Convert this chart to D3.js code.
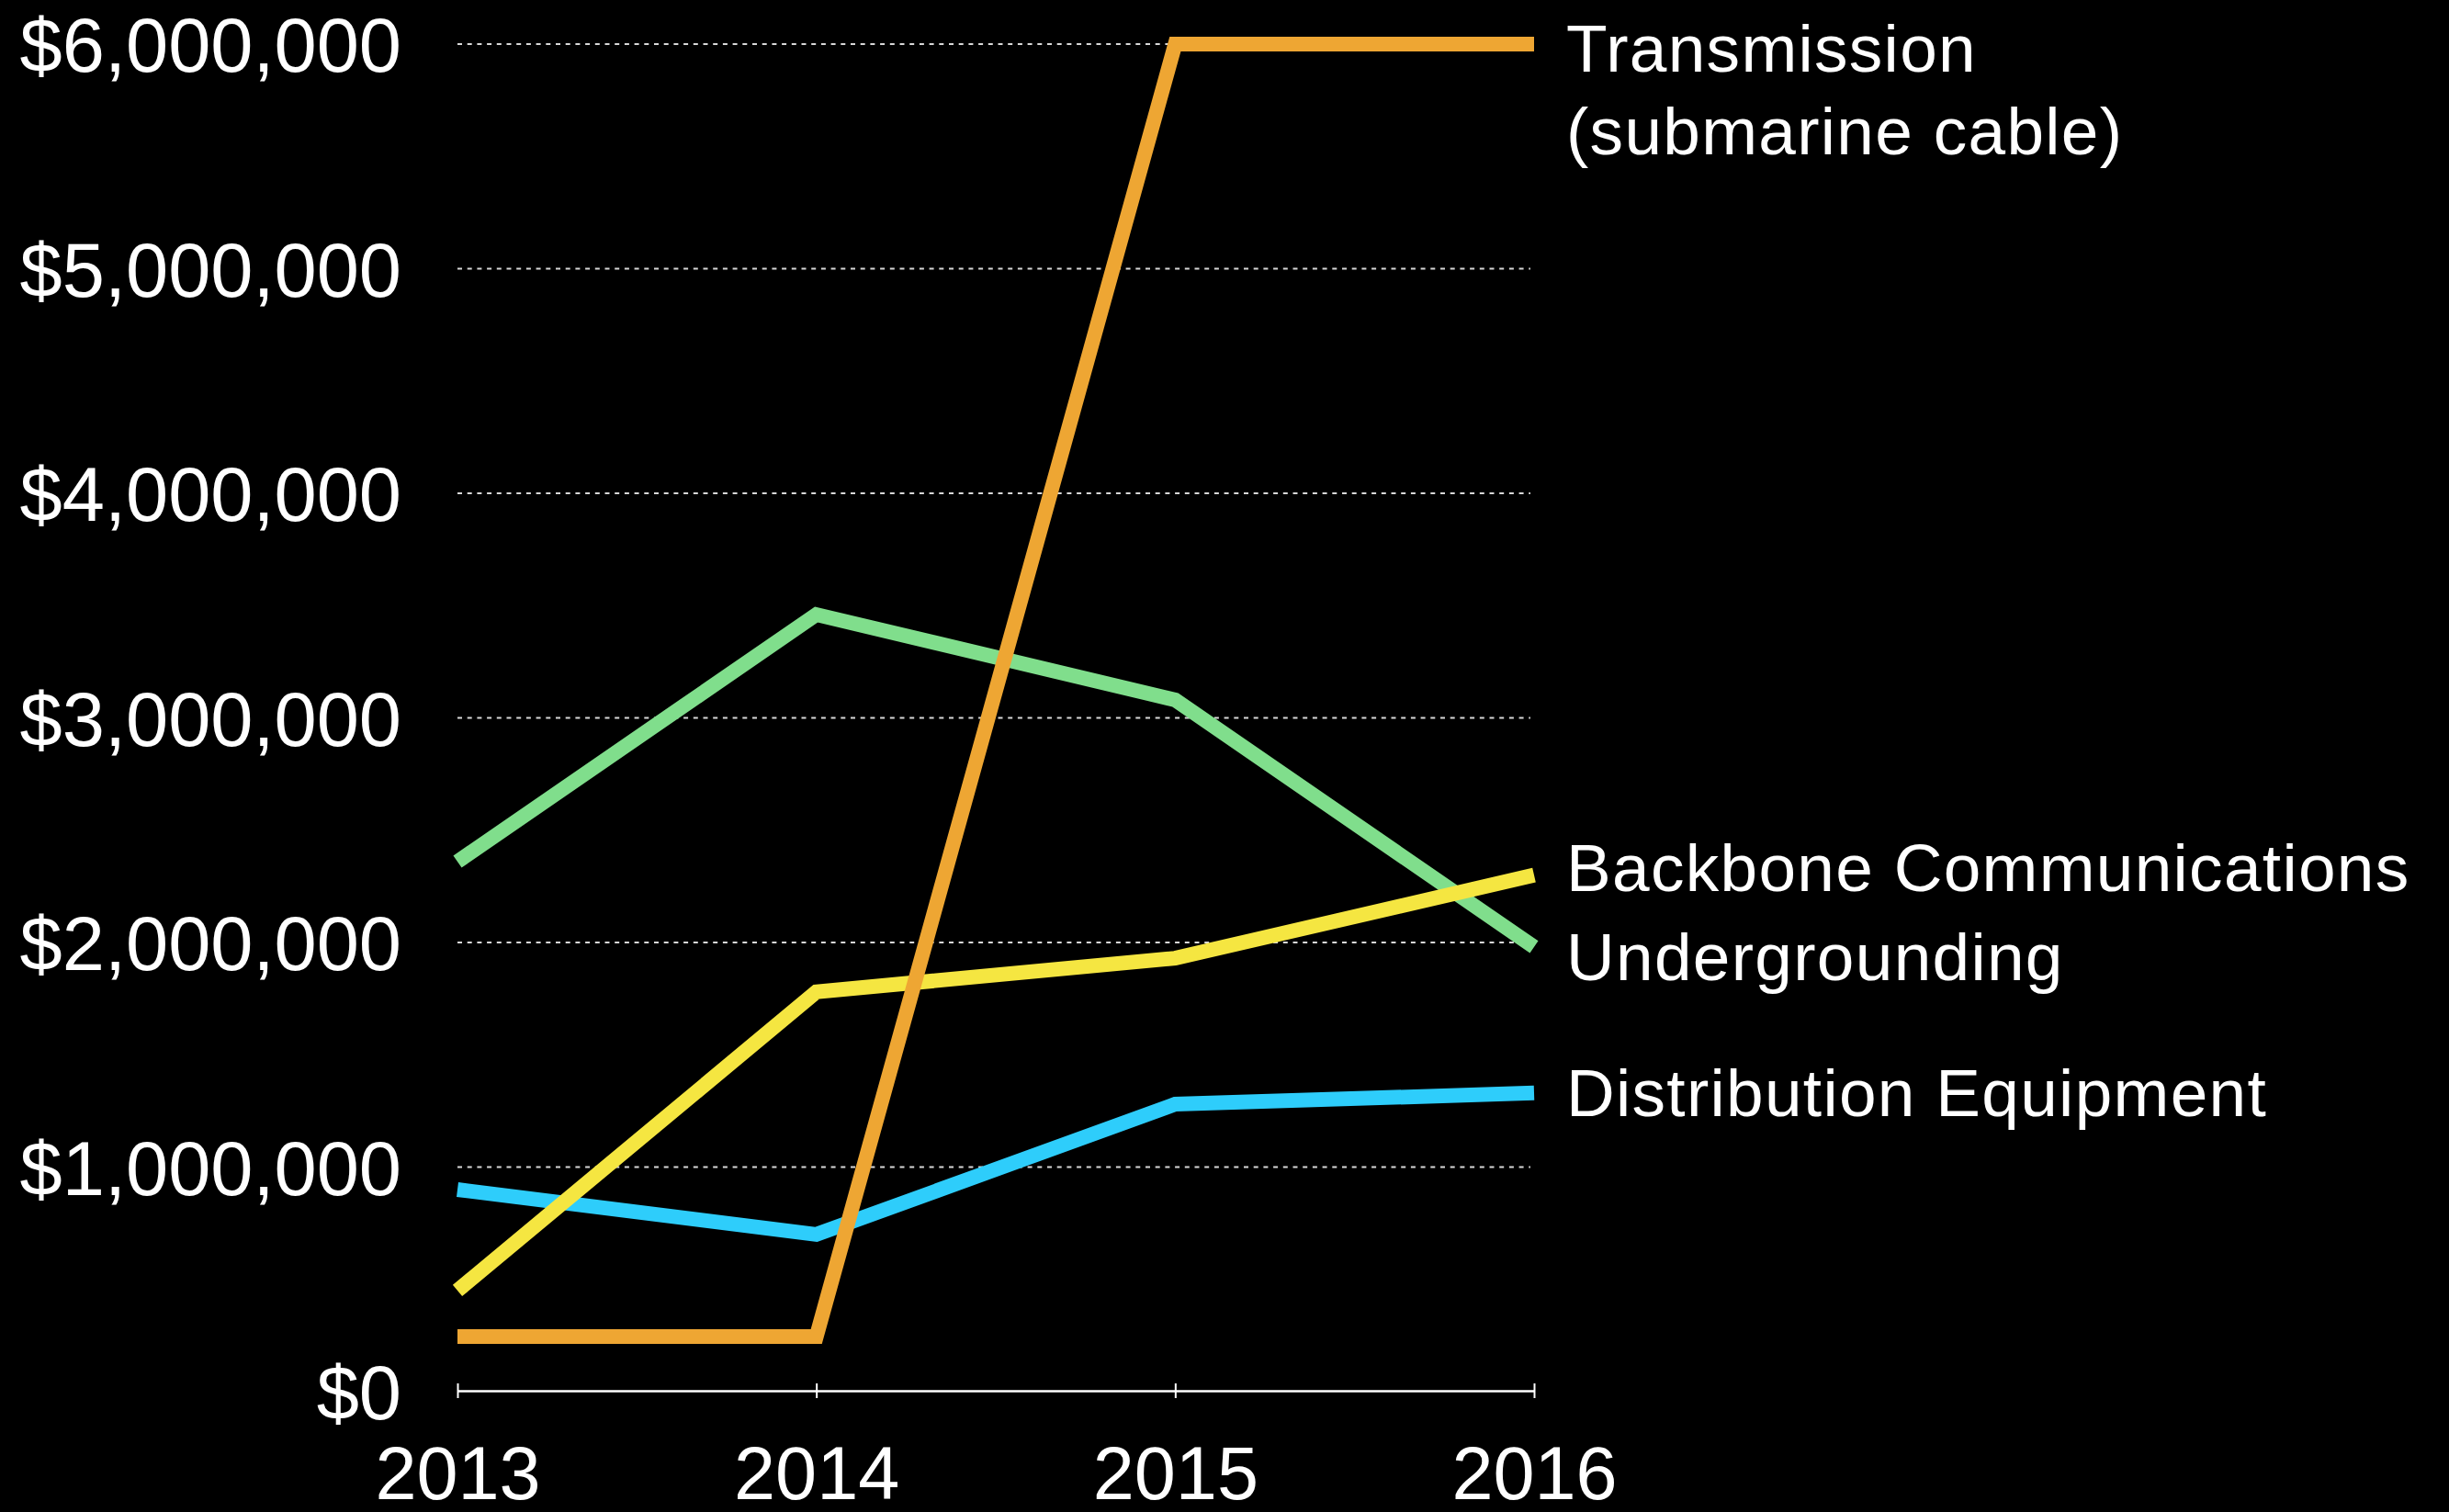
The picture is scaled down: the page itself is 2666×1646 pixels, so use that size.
<!DOCTYPE html>
<html>
<head>
<meta charset="utf-8">
<script src="https://cdn.jsdelivr.net/npm/d3@7"></script>
<style>
  body { margin: 0; background: #000; }
  text { font-family: "Helvetica Neue", "Liberation Sans", Arial, sans-serif; fill: #fff; }
</style>
</head>
<body>
<div id="chart"></div>
<script>
var years = ["2013", "2014", "2015", "2016"];
var yTicks = [0, 1000000, 2000000, 3000000, 4000000, 5000000, 6000000];

var undergrounding = [2360000, 3460000, 3080000, 1980000];
var distribution = [900000, 700000, 1280000, 1330000];
var backbone = [450000, 1780000, 1930000, 2300000];
var transmission = [245000, 245000, 6000000, 6000000];

var seriesNames = ["Undergrounding", "Distribution Equipment", "Backbone Communications", "Transmission"];
var seriesColors = ["#80de8c", "#2ecdfb", "#f5e641", "#eea633"];

var svgWidth = 2666;
var svgHeight = 1646;

var margin = { top: 48, left: 498 };
var width = 1172;
var height = 1467;

var svg = d3.select("#chart")
  .append("svg")
  .attr("width", svgWidth)
  .attr("height", svgHeight)
  .style("background", "#000");

var chartGroup = svg.append("g")
  .attr("transform", `translate(${margin.left},${margin.top})`);

var xScale = d3.scalePoint()
  .domain(years)
  .range([0, width]);

var yScale = d3.scaleLinear()
  .domain([0, 6000000])
  .range([height, 0]);

// dotted gridlines (not at zero, the axis sits there)
chartGroup.append("g")
  .selectAll("line")
  .data(yTicks.filter(d => d > 0))
  .enter()
  .append("line")
  .attr("x1", 0)
  .attr("x2", width - 4)
  .attr("y1", d => yScale(d))
  .attr("y2", d => yScale(d))
  .attr("stroke", "#d8d8d8")
  .attr("stroke-width", 2)
  .attr("stroke-dasharray", "5,5.7");

// y labels
var leftAxis = d3.axisLeft(yScale)
  .tickValues(yTicks)
  .tickSize(0)
  .tickPadding(61)
  .tickFormat(d => "$" + d3.format(",")(d));

var yAxis = chartGroup.append("g").call(leftAxis);
yAxis.select(".domain").remove();
yAxis.selectAll("text")
  .attr("font-size", "83px")
  .attr("dy", "0.36em")
  .attr("fill", "#fff");

// x axis
var bottomAxis = d3.axisBottom(xScale)
  .tickSizeInner(8)
  .tickSizeOuter(0)
  .tickPadding(0);

var xAxis = chartGroup.append("g")
  .attr("transform", `translate(0, ${height - 1})`)
  .call(bottomAxis);

xAxis.select(".domain")
  .attr("stroke", "#fff")
  .attr("stroke-width", 2.5);
xAxis.selectAll(".tick line")
  .attr("stroke", "#fff")
  .attr("stroke-width", 2)
  .attr("y1", -8)
  .attr("y2", 8);
xAxis.selectAll("text")
  .attr("font-size", "81px")
  .attr("y", 118)
  .attr("dy", 0)
  .attr("fill", "#fff");

// lines
var allSeries = [undergrounding, distribution, backbone, transmission];

var line = d3.line()
  .x((d, i) => xScale(years[i]))
  .y(d => yScale(d));

chartGroup.append("g")
  .selectAll("path")
  .data(allSeries)
  .enter()
  .append("path")
  .attr("d", d => line(d))
  .attr("fill", "none")
  .attr("stroke", (d, i) => seriesColors[i])
  .attr("stroke-width", 16)
  .attr("stroke-linejoin", "miter")
  .attr("stroke-linecap", "butt");

// end labels
var labelX = 1705;
var labels = [
  { lines: ["Transmission", "(submarine cable)"], y: 78 },
  { lines: ["Backbone Communications"], y: 970 },
  { lines: ["Undergrounding"], y: 1067 },
  { lines: ["Distribution Equipment"], y: 1215 }
];

labels.forEach(function(lab) {
  var t = svg.append("text")
    .attr("x", labelX)
    .attr("y", lab.y)
    .attr("font-size", "73px")
    .attr("letter-spacing", "1.3px");
  lab.lines.forEach(function(s, i) {
    t.append("tspan")
      .attr("x", labelX)
      .attr("dy", i === 0 ? 0 : 90)
      .text(s);
  });
});
</script>
</body>
</html>
